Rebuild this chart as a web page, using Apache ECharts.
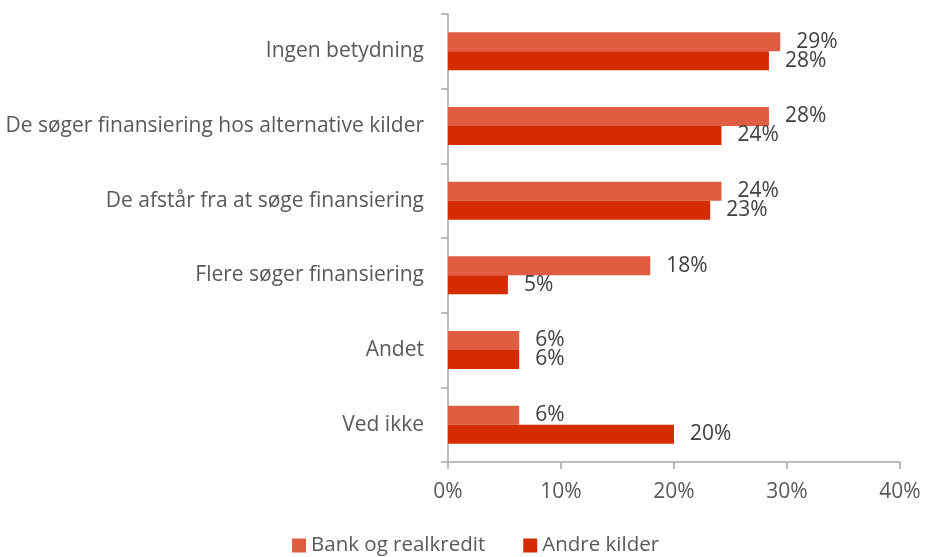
<!DOCTYPE html>
<html>
<head>
<meta charset="utf-8">
<script src="https://cdn.jsdelivr.net/npm/echarts@6/dist/echarts.min.js"></script>
<style>html,body{margin:0;padding:0;background:#fff}#c{width:925px;height:557px}</style>
</head>
<body>
<div id="c"></div>
<script>
const categories = ["Ingen betydning", "De søger finansiering hos alternative kilder", "De afstår fra at søge finansiering", "Flere søger finansiering", "Andet", "Ved ikke"];
const seriesNames = ["Bank og realkredit", "Andre kilder"];
const bankValues = [29.4, 28.4, 24.2, 17.9, 6.3, 6.3];
const andreValues = [28.4, 24.2, 23.2, 5.3, 6.3, 20.0];
const xTicks = [0, 10, 20, 30, 40];

const FONT = "Open Sans";
const chart = echarts.init(document.getElementById('c'), null, {renderer: 'canvas'});
const labelCfg = {
  show: true, position: 'right', distance: 16,
  color: '#404040', fontSize: 21, fontFamily: FONT,
  formatter: p => Math.round(p.value) + '%'
};
chart.setOption({
  animation: false,
  grid: {left: 448, right: 25, top: 14, bottom: 95, containLabel: false},
  legend: {
    top: 530, left: 287, itemWidth: 14, itemHeight: 14, itemGap: 38, itemTextGap: 6,
    icon: 'rect',
    textStyle: {color: '#595959', fontSize: 20.5, fontFamily: FONT},
    data: seriesNames
  },
  xAxis: {
    type: 'value', min: xTicks[0], max: xTicks[xTicks.length - 1], interval: 10,
    axisLine: {show: true, lineStyle: {color: '#A6A6A6', width: 1.5}},
    axisTick: {show: true, length: 7, lineStyle: {color: '#A6A6A6', width: 1.5}},
    splitLine: {show: false},
    axisLabel: {formatter: '{value}%', color: '#595959', fontSize: 21, fontFamily: FONT, margin: 20}
  },
  yAxis: {
    type: 'category', data: categories, inverse: true,
    axisLine: {show: true, lineStyle: {color: '#A6A6A6', width: 1.5}},
    axisTick: {show: true, length: 7, lineStyle: {color: '#A6A6A6', width: 1.5}},
    axisLabel: {color: '#595959', fontSize: 21, fontFamily: FONT, margin: 24, padding: [3, 0, 0, 0]}
  },
  series: [
    {name: seriesNames[0], type: 'bar', data: bankValues, barWidth: 19, barGap: '0%',
     itemStyle: {color: '#E05D42'}, label: labelCfg},
    {name: seriesNames[1], type: 'bar', data: andreValues, barWidth: 19, barGap: '0%',
     itemStyle: {color: '#D52B00'}, label: labelCfg}
  ]
});
</script>
</body>
</html>
